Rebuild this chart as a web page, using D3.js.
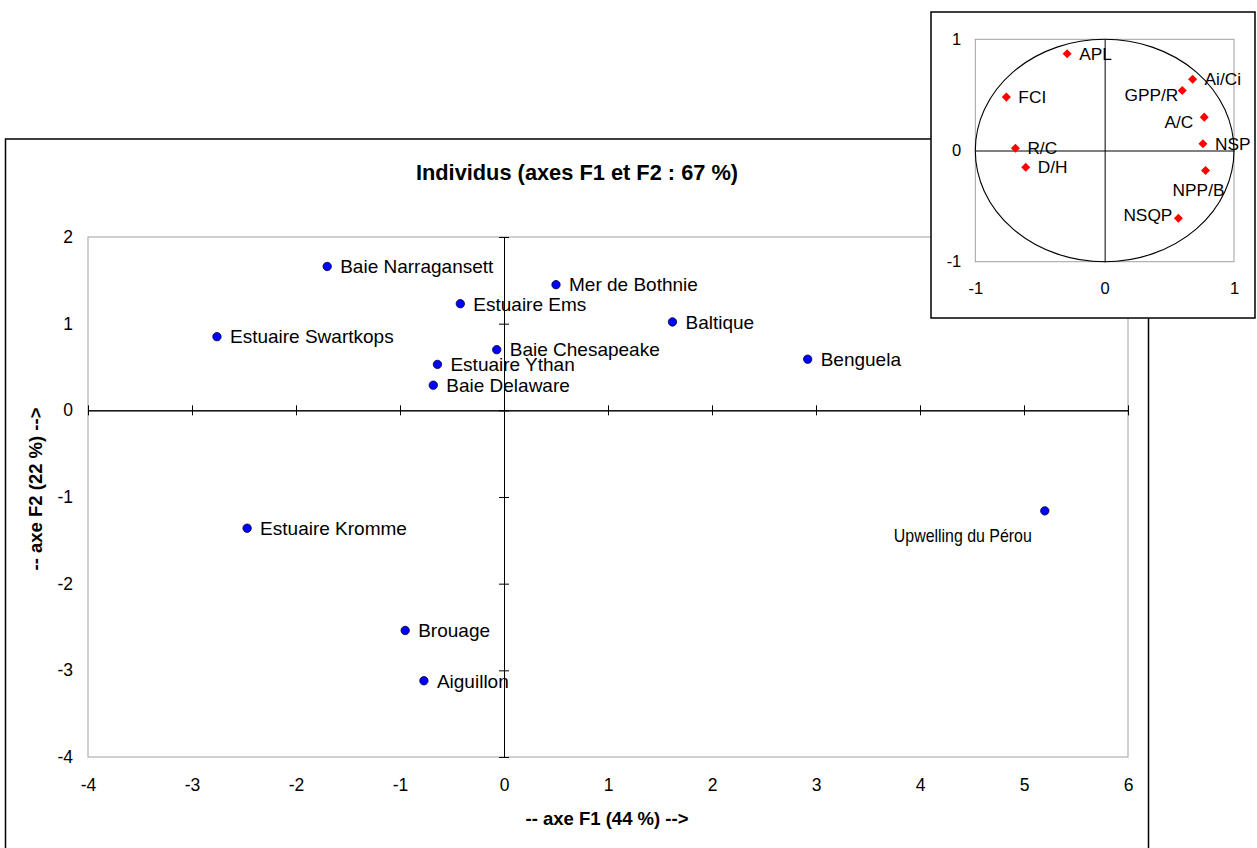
<!DOCTYPE html>
<html>
<head>
<meta charset="utf-8">
<script src="https://cdn.jsdelivr.net/npm/d3@7"></script>
<style>
  html, body { margin: 0; padding: 0; background: #fff; }
  svg { display: block; font-family: "Liberation Sans", Arial, sans-serif; }
</style>
</head>
<body>
<svg id="chart" width="1257" height="848"></svg>
<script>
// ---------------- DATA ----------------
const chartTitle = "Individus (axes F1 et F2 : 67 %)";
const xAxisTitle = "-- axe F1 (44 %) -->";
const yAxisTitle = "-- axe F2 (22 %) -->";

const siteNames = ["Baie Narragansett", "Estuaire Ems", "Estuaire Swartkops", "Baie Chesapeake",
  "Estuaire Ythan", "Baie Delaware", "Mer de Bothnie", "Baltique", "Benguela",
  "Estuaire Kromme", "Brouage", "Aiguillon", "Upwelling du Pérou"];
const siteF1 = [-1.70, -0.42, -2.76, -0.07, -0.64, -0.68, 0.50, 1.62, 2.92, -2.47, -0.95, -0.77, 5.20];
const siteF2 = [1.66, 1.23, 0.85, 0.70, 0.53, 0.29, 1.45, 1.02, 0.59, -1.36, -2.54, -3.12, -1.16];

const mainXTicks = [-4, -3, -2, -1, 0, 1, 2, 3, 4, 5, 6];
const mainYTicks = [-4, -3, -2, -1, 0, 1, 2];

const varNames = ["APL", "Ai/Ci", "GPP/R", "FCI", "A/C", "NSP", "R/C", "D/H", "NPP/B", "NSQP"];
const varF1 = [-0.29, 0.68, 0.60, -0.76, 0.77, 0.76, -0.69, -0.61, 0.78, 0.57];
const varF2 = [0.87, 0.64, 0.54, 0.48, 0.30, 0.06, 0.02, -0.15, -0.18, -0.61];

const insetTicks = [-1, 0, 1];

// label placement (presentation only)
const siteLabelPos = {"Upwelling du Pérou": {dx: -13, dy: 31, anchor: "end", len: 138}};
const varLabelPos = {
  "GPP/R": {dx: -4, dy: 11, anchor: "end"},
  "A/C": {dx: -11, dy: 11, anchor: "end"},
  "NSQP": {dx: -6, dy: 3, anchor: "end"},
  "NPP/B": {dx: -7, dy: 25, anchor: "middle"}
};

// ---------------- DRAW ----------------
const svg = d3.select("#chart");
const fmt = d => String(d);

// main frame
svg.append("rect").attr("x", 5.5).attr("y", 139).attr("width", 1143).attr("height", 730)
  .attr("fill", "#fff").attr("stroke", "#000").attr("stroke-width", 1.5);

const x = d3.scaleLinear().domain([-4, 6]).range([88, 1128]);
const y = d3.scaleLinear().domain([-4, 2]).range([757, 237]);

const g = svg.append("g");
// plot area border
g.append("rect").attr("x", x(-4)).attr("y", y(2)).attr("width", x(6) - x(-4)).attr("height", y(-4) - y(2))
  .attr("fill", "none").attr("stroke", "#a0a0a0").attr("stroke-width", 1);

function styleAxis(sel, size) {
  sel.selectAll("path.domain").attr("stroke", "#000").attr("stroke-width", 1);
  sel.selectAll(".tick line").attr("stroke", "#000").attr("stroke-width", 1);
  sel.selectAll("text").attr("fill", "#000").attr("font-size", size)
    .attr("font-family", "'Liberation Sans', Arial, sans-serif");
}

// zero lines with crossing ticks
const xz1 = g.append("g").attr("transform", `translate(0,${y(0)})`)
  .call(d3.axisBottom(x).tickValues(mainXTicks).tickSizeInner(5).tickSizeOuter(0).tickFormat(""));
const xz2 = g.append("g").attr("transform", `translate(0,${y(0)})`)
  .call(d3.axisTop(x).tickValues(mainXTicks).tickSizeInner(5).tickSizeOuter(0).tickFormat(""));
const yz1 = g.append("g").attr("transform", `translate(${x(0)},0)`)
  .call(d3.axisLeft(y).tickValues(mainYTicks).tickSizeInner(5).tickSizeOuter(0).tickFormat(""));
const yz2 = g.append("g").attr("transform", `translate(${x(0)},0)`)
  .call(d3.axisRight(y).tickValues(mainYTicks).tickSizeInner(5).tickSizeOuter(0).tickFormat(""));
[xz1, xz2, yz1, yz2].forEach(a => styleAxis(a, 17));

// tick labels
const xl = g.append("g").attr("transform", `translate(0,${y(-4)})`)
  .call(d3.axisBottom(x).tickValues(mainXTicks).tickSize(0).tickPadding(22).tickFormat(fmt));
xl.select("path.domain").remove();
styleAxis(xl, 17.5);
const yl = g.append("g").attr("transform", `translate(${x(-4)},0)`)
  .call(d3.axisLeft(y).tickValues(mainYTicks).tickSize(0).tickPadding(15).tickFormat(fmt));
yl.select("path.domain").remove();
styleAxis(yl, 17.5);

// titles
svg.append("text").attr("x", 577).attr("y", 180).attr("text-anchor", "middle")
  .attr("font-size", 21.8).attr("font-weight", "bold").text(chartTitle);
svg.append("text").attr("x", 607).attr("y", 825).attr("text-anchor", "middle")
  .attr("font-size", 18.5).attr("font-weight", "bold").text(xAxisTitle);
svg.append("text").attr("transform", "translate(42,489) rotate(-90)").attr("text-anchor", "middle")
  .attr("font-size", 18.5).attr("font-weight", "bold").text(yAxisTitle);

// sites
const sites = siteNames.map((n, i) => ({name: n, f1: siteF1[i], f2: siteF2[i]}));
g.selectAll("circle.site").data(sites).join("circle").attr("class", "site")
  .attr("cx", d => x(d.f1)).attr("cy", d => y(d.f2)).attr("r", 4.2)
  .attr("fill", "#0000ff").attr("stroke", "#000033").attr("stroke-width", 0.8);
g.selectAll("text.site").data(sites).join("text").attr("class", "site")
  .each(function(d) {
    const p = siteLabelPos[d.name] || {dx: 13, dy: 6.8, anchor: "start"};
    const t = d3.select(this).attr("x", x(d.f1) + p.dx).attr("y", y(d.f2) + p.dy)
      .attr("text-anchor", p.anchor).attr("font-size", 19).attr("fill", "#000").text(d.name);
    if (p.len) t.attr("textLength", p.len).attr("lengthAdjust", "spacingAndGlyphs");
  });

// ---------------- INSET ----------------
const ins = svg.append("g");
ins.append("rect").attr("x", 931).attr("y", 12).attr("width", 324).attr("height", 306)
  .attr("fill", "#fff").attr("stroke", "#000").attr("stroke-width", 1.5);
const ix = d3.scaleLinear().domain([-1, 1]).range([975.3, 1234]);
const iy = d3.scaleLinear().domain([-1, 1]).range([261.7, 39.3]);
ins.append("rect").attr("x", ix(-1)).attr("y", iy(1)).attr("width", ix(1) - ix(-1)).attr("height", iy(-1) - iy(1))
  .attr("fill", "none").attr("stroke", "#a0a0a0").attr("stroke-width", 1);
const ixz = ins.append("g").attr("transform", `translate(0,${iy(0)})`)
  .call(d3.axisBottom(ix).tickValues(insetTicks).tickSize(0).tickFormat(""));
const iyz = ins.append("g").attr("transform", `translate(${ix(0)},0)`)
  .call(d3.axisLeft(iy).tickValues(insetTicks).tickSize(0).tickFormat(""));
[ixz, iyz].forEach(a => styleAxis(a, 16));
const ixl = ins.append("g").attr("transform", `translate(0,${iy(-1)})`)
  .call(d3.axisBottom(ix).tickValues(insetTicks).tickSize(0).tickPadding(21).tickFormat(fmt));
ixl.select("path.domain").remove(); styleAxis(ixl, 16.5);
const iyl = ins.append("g").attr("transform", `translate(${ix(-1)},0)`)
  .call(d3.axisLeft(iy).tickValues(insetTicks).tickSize(0).tickPadding(14).tickFormat(fmt));
iyl.select("path.domain").remove(); styleAxis(iyl, 16.5);

// correlation circle
ins.append("ellipse").attr("cx", ix(0)).attr("cy", iy(0))
  .attr("rx", ix(1) - ix(0)).attr("ry", iy(0) - iy(1))
  .attr("fill", "none").attr("stroke", "#000").attr("stroke-width", 1.1);

const vars = varNames.map((n, i) => ({name: n, f1: varF1[i], f2: varF2[i]}));
const diamond = d3.symbol().type(d3.symbolDiamond2).size(52);
ins.selectAll("path.var").data(vars).join("path").attr("class", "var")
  .attr("transform", d => `translate(${ix(d.f1)},${iy(d.f2)})`)
  .attr("d", diamond).attr("fill", "#ff0000").attr("stroke", "none");
ins.selectAll("text.var").data(vars).join("text").attr("class", "var")
  .each(function(d) {
    const p = varLabelPos[d.name] || {dx: 12, dy: 6, anchor: "start"};
    d3.select(this).attr("x", ix(d.f1) + p.dx).attr("y", iy(d.f2) + p.dy)
      .attr("text-anchor", p.anchor).attr("font-size", 17.3).attr("fill", "#000").text(d.name);
  });
</script>
</body>
</html>
